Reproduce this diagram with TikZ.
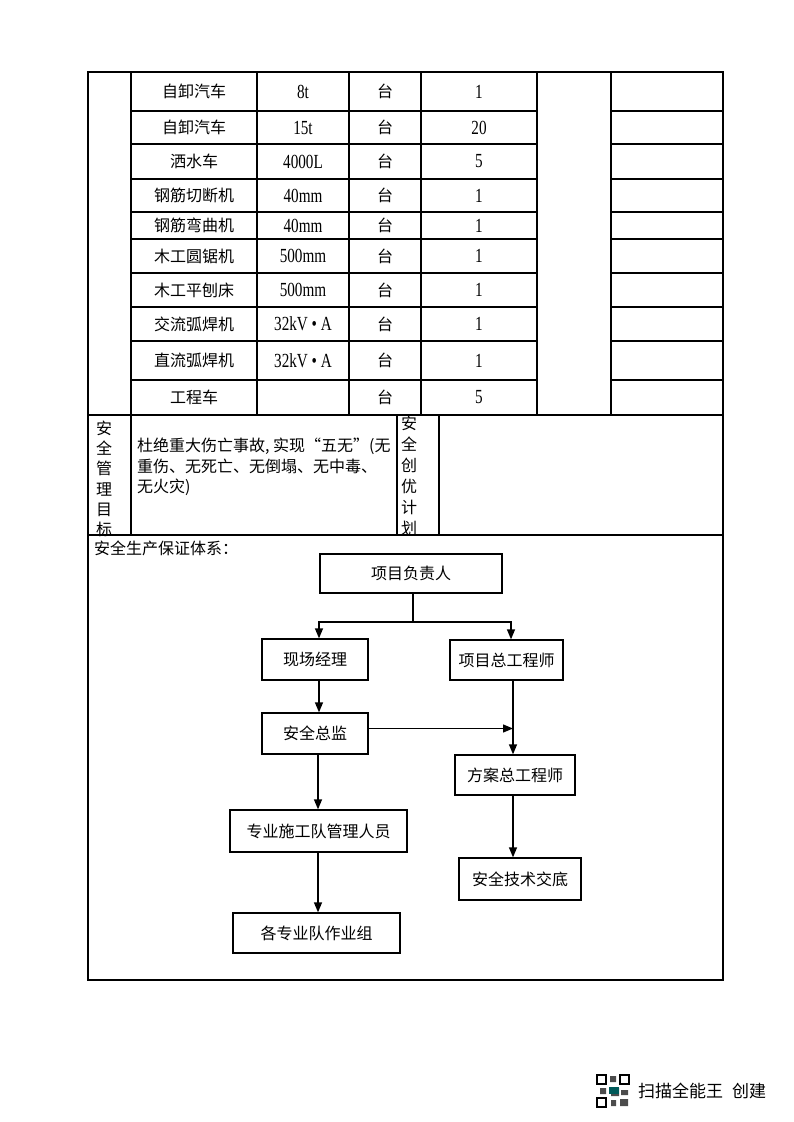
\documentclass[tikz,border=0pt]{standalone}
\usepackage{fontspec}
\usepackage{tikz}
\usetikzlibrary{arrows.meta,positioning}
\setmainfont{Noto Sans CJK SC}
\newfontfamily\numfont[FakeStretch=0.76]{Liberation Serif}

\begin{document}
\begin{tikzpicture}[x=1pt, y=-1pt,
  rule/.style={line width=1.3pt},
  cell/.style={inner sep=0pt, font=\fontsize{16}{16}\selectfont},
  num/.style={inner sep=0pt, font=\numfont\fontsize{20}{20}\selectfont},
  vtext/.style={inner sep=0pt, align=center, font=\fontsize{16}{20.3}\selectfont},
  box/.style={draw, line width=1.3pt, inner sep=0pt, font=\fontsize{16}{16}\selectfont},
  arr/.style={-{Triangle[length=10pt,width=8pt]}, line width=1.3pt}
]
\useasboundingbox (0,0) rectangle (793,1122);

% frame and table rules
\draw[rule] (88,72) rectangle (723,980);
\draw[rule] (88,415) -- (723,415);
\draw[rule] (88,535) -- (723,535);
\draw[rule] (131,72) -- (131,535);
\foreach \x in {257,349,421,537,611}
  \draw[rule] (\x,72) -- (\x,415);
\foreach \y in {111,144,179,212,239,273,307,341,380} {
  \draw[rule] (131,\y) -- (537,\y);
  \draw[rule] (611,\y) -- (723,\y);
}
\draw[rule] (397,415) -- (397,535);
\draw[rule] (439,415) -- (439,535);

% equipment rows
\foreach \n/\s/\q/\y [count=\i] in {
  自卸汽车/8t/1/91.5, 自卸汽车/15t/20/127.5, 洒水车/4000L/5/161.5,
  钢筋切断机/40mm/1/195.5, 钢筋弯曲机/40mm/1/225.5, 木工圆锯机/500mm/1/256,
  木工平刨床/500mm/1/290, 交流弧焊机/32kV • A/1/324,
  直流弧焊机/32kV • A/1/360.5, 工程车//5/397.5} {
  \node[cell] (name-\i) at (194,\y) {\n};
  \node[num] (spec-\i) at (303,\y) {\s};
  \node[cell] (unit-\i) at (385,\y) {台};
  \node[num] (qty-\i) at (479,\y) {\q};
}

% safety goal row
\node[vtext] (goal-head) at (104,479) {安\\全\\管\\理\\目\\标};
\node[anchor=north west, inner sep=0pt, align=left, font=\fontsize{16}{20.5}\selectfont]
  (goal-text) at (137,438) {杜绝重大伤亡事故, 实现“五无”(无\\重伤、无死亡、无倒塌、无中毒、\\无火灾)};
\node[vtext, font=\fontsize{16}{21}\selectfont] (plan-head) at (409,476) {安\\全\\创\\优\\计\\划};

% guarantee system chart
\node[anchor=west, inner sep=0pt, font=\fontsize{16}{16}\selectfont] (sys-title) at (94,548) {安全生产保证体系：};
\node[box, minimum width=182pt, minimum height=39pt] (head) at (411,573.5) {项目负责人};
\node[box, minimum width=106pt, minimum height=41pt] (site) at (315,659.5) {现场经理};
\node[box, minimum width=113pt, minimum height=40pt] (chief) at (506.5,660) {项目总工程师};
\node[box, minimum width=106pt, minimum height=41pt] (safety) at (315,733.5) {安全总监};
\node[box, minimum width=120pt, minimum height=40pt] (plan) at (515,775) {方案总工程师};
\node[box, minimum width=122pt, minimum height=42pt] (tech) at (520,879) {安全技术交底};
\node[box, minimum width=177pt, minimum height=42pt] (team) at (318.5,831) {专业施工队管理人员};
\node[box, minimum width=167pt, minimum height=40pt] (group) at (316.5,933) {各专业队作业组};

\coordinate (fork) at (413,622);
\coordinate (lspine) at (318,0);
\coordinate (rspine) at (513,0);
\draw[rule] (head.south -| fork) -- (fork);
\draw[arr] (fork) -| (site.north -| 319,0);
\draw[arr] (fork) -| (chief.north -| 511,0);
\draw[arr] (site.south -| 319,0) -- (safety.north -| 319,0);
\draw[arr] (chief.south -| rspine) -- (plan.north -| rspine);
\draw[arr] ([yshift=5pt]safety.east) -- ([yshift=5pt]safety.east -| rspine);
\draw[arr] (plan.south -| rspine) -- (tech.north -| rspine);
\draw[arr] (safety.south -| lspine) -- (team.north -| lspine);
\draw[arr] (team.south -| lspine) -- (group.north -| lspine);

% scanner mark
\draw[line width=2pt] (597,1075) rectangle (606,1084);
\draw[line width=2pt] (620,1075) rectangle (629,1084);
\draw[line width=2pt] (597,1098) rectangle (606,1107);
\fill[black!70] (610,1076) rectangle (616,1082) (600,1088) rectangle (606,1094)
  (611,1088) rectangle (619,1096) (621,1090) rectangle (628,1095)
  (611,1100) rectangle (616,1106) (620,1099) rectangle (628,1106);
\fill[teal!70!black] (609,1087) rectangle (619,1094);
\node[anchor=west, inner sep=0pt, font=\fontsize{17}{17}\selectfont] (scan-mark) at (638,1091) {扫描全能王\hspace{9pt}创建};
\end{tikzpicture}
\end{document}
